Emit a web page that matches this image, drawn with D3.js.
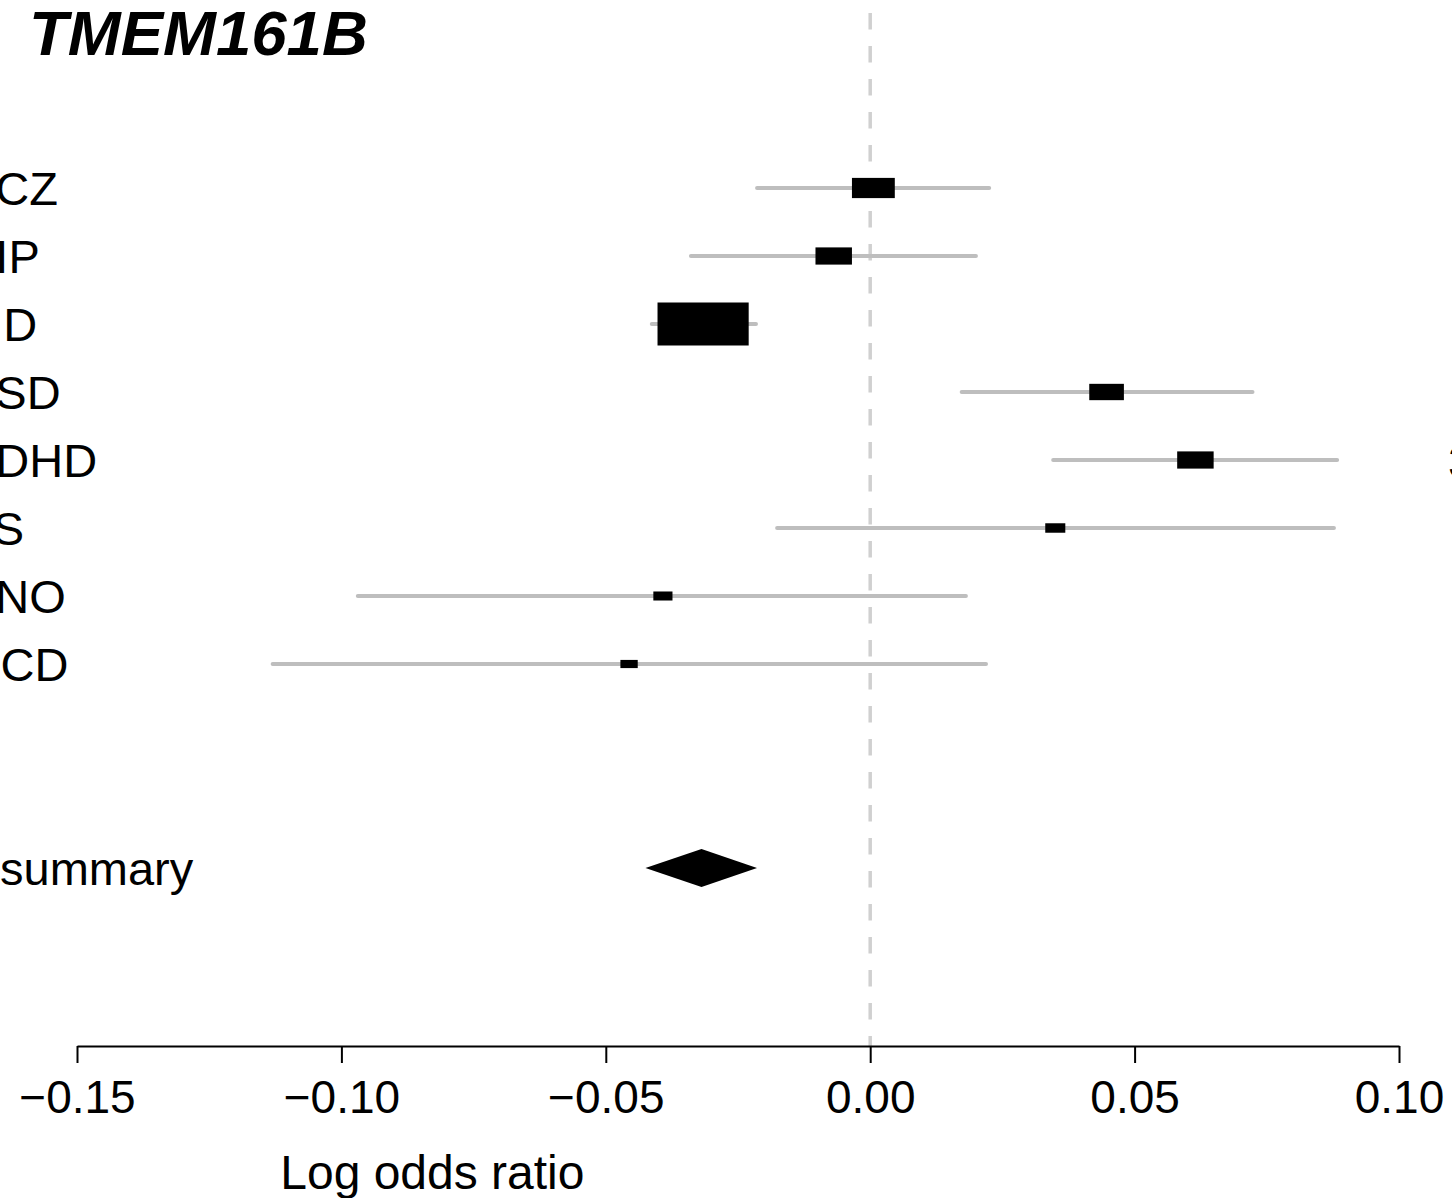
<!DOCTYPE html>
<html>
<head>
<meta charset="utf-8">
<script src="https://cdn.jsdelivr.net/npm/d3@7"></script>
<style>
  html, body { margin: 0; padding: 0; background: #fff; overflow: hidden; }
  svg { display: block; font-family: "Liberation Sans", Arial, Helvetica, sans-serif; }
</style>
</head>
<body>
<svg id="chart" width="1452" height="1198"></svg>
<script>
// ---- data ----
const title = "TMEM161B";
const studies = ["SCZ", "BIP", "MD", "ASD", "ADHD", "TS", "ANO", "OCD"];
const estimates = [0.0006, -0.0069, -0.0316, 0.0447, 0.0615, 0.0350, -0.0392, -0.0456];
const lowerCI = [-0.0214, -0.0339, -0.0413, 0.0173, 0.0346, -0.0176, -0.0969, -0.1130];
const upperCI = [0.0225, 0.0200, -0.0216, 0.0723, 0.0883, 0.0877, 0.0181, 0.0219];
const weights = [0.47, 0.40, 1.00, 0.38, 0.40, 0.22, 0.21, 0.19];
const summaryLabel = "summary";
const summaryEst = -0.0319;
const summaryLower = -0.0425;
const summaryUpper = -0.0214;
const xTicks = [-0.15, -0.10, -0.05, 0.00, 0.05, 0.10];
const xLabel = "Log odds ratio";

// ---- layout ----
const svg = d3.select("#chart");
const x = d3.scaleLinear().domain([-0.15, 0.10]).range([77, 1399]);
const y = d3.scaleLinear().domain([0, 10]).range([188, 868]);
const summaryRow = 10;
const boxH = d3.scaleLinear().domain([0, 1]).range([0, 43]);
const boxAspect = 2.12;
const labelFont = 47;

// title
svg.append("text")
  .attr("x", 29).attr("y", 55)
  .attr("font-size", 63.5).attr("font-weight", "bold").attr("font-style", "italic")
  .text(title);

// partial glyph at right edge (neighbouring panel)
svg.append("text")
  .attr("x", 1448).attr("y", y(4) + 18)
  .attr("font-size", labelFont)
  .text("3");

// zero reference line
svg.append("line")
  .attr("x1", x(0)).attr("x2", x(0))
  .attr("y1", 13).attr("y2", 1046)
  .attr("stroke", "#d0d0d0").attr("stroke-width", 3.5)
  .attr("stroke-dasharray", "16.5,16.5");

// study labels
svg.append("g").selectAll("text").data(studies).join("text")
  .attr("x", -36)
  .attr("y", (d, i) => y(i) + 17)
  .attr("font-size", labelFont)
  .text(d => d);

svg.append("text")
  .attr("x", 0).attr("y", y(summaryRow) + 17)
  .attr("font-size", labelFont)
  .text(summaryLabel);

// CI lines
const rows = studies.map((s, i) => ({ s, i, est: estimates[i], lo: lowerCI[i], hi: upperCI[i], w: weights[i] }));
svg.append("g").selectAll("line").data(rows).join("line")
  .attr("x1", d => x(d.lo)).attr("x2", d => x(d.hi))
  .attr("y1", d => y(d.i)).attr("y2", d => y(d.i))
  .attr("stroke", "#bebebe").attr("stroke-width", 4).attr("stroke-linecap", "round");

// boxes
svg.append("g").selectAll("rect").data(rows).join("rect")
  .attr("x", d => x(d.est) - boxH(d.w) * boxAspect / 2)
  .attr("y", d => y(d.i) - boxH(d.w) / 2)
  .attr("width", d => boxH(d.w) * boxAspect)
  .attr("height", d => boxH(d.w))
  .attr("fill", "#000");

// summary diamond
const sy = y(summaryRow), half = 19;
svg.append("path")
  .attr("d", `M${x(summaryLower)},${sy} L${x(summaryEst)},${sy - half} L${x(summaryUpper)},${sy} L${x(summaryEst)},${sy + half} Z`)
  .attr("fill", "#000");

// axis
const axis = d3.axisBottom(x).tickValues(xTicks).tickSize(17).tickSizeOuter(0)
  .tickFormat(d3.format(".2f")).tickPadding(17);
const ag = svg.append("g").attr("transform", "translate(0,1046)").call(axis);
ag.select(".domain").attr("stroke", "#000").attr("stroke-width", 2);
ag.selectAll(".tick line").attr("stroke", "#000").attr("stroke-width", 2);
ag.selectAll(".tick text").attr("font-size", 46).attr("fill", "#000")
  .attr("font-family", "'Liberation Sans', Arial, sans-serif");

svg.append("text")
  .attr("x", x(-0.0828)).attr("y", 1189)
  .attr("text-anchor", "middle")
  .attr("font-size", 48)
  .text(xLabel);
</script>
</body>
</html>
